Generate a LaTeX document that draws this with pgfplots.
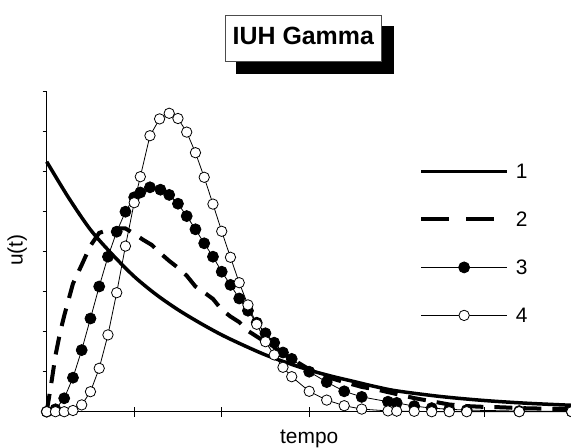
\documentclass[border=0pt]{standalone}
\usepackage{fontspec}
\setmainfont{Liberation Sans}
\usepackage{pgfplots}
\pgfplotsset{compat=1.18}
\pgfplotsset{
  leg solid/.style={legend image code/.code={\draw[##1] (0bp,0bp) -- (86bp,0bp);}},
  leg dash/.style={legend image code/.code={\draw[##1, dash pattern=on 28bp off 17bp] (0bp,0bp) -- (73bp,0bp);}},
  leg mark/.style={legend image code/.code={\draw[##1, mark repeat=2, mark phase=2] plot coordinates {(0bp,0bp) (43bp,0bp) (86bp,0bp)};}},
}

\begin{document}
\begin{tikzpicture}[x=1bp,y=1bp]
% title with shadow
\fill[black] (236,374) rectangle (394.3,422.3);
\draw[fill=white, draw=black!70, line width=0.8bp] (225,387) rectangle (381.7,433);
\node[anchor=base, inner sep=0pt, font=\fontsize{25}{29}\selectfont\bfseries] at (303.3,403.7) {IUH Gamma};

\node[anchor=base, inner sep=0pt, font=\fontsize{21}{25}\selectfont] at (309.2,4.2) {tempo};
\node[anchor=base, rotate=90, inner sep=0pt, font=\fontsize{21}{25}\selectfont] at (22.7,198) {u(t)};

\begin{axis}[
  at={(46.7bp,36.3bp)}, anchor=south west,
  scale only axis, width=525bp, height=320bp,
  xmin=0, xmax=6, ymin=0, ymax=8,
  axis x line=bottom, axis y line=left,
  axis line style={-, line width=0.8bp, black},
  xtick=\empty,
  extra x ticks={1,2,3,4,5},
  extra x tick labels={},
  extra x tick style={major tick length=10bp, tick align=center},
  ytick={1,...,8}, yticklabels={},
  major tick length=4bp, ytick align=outside,
  tick style={black, line width=0.8bp},
  clip=false,
  legend cell align=left,
  legend style={draw=none, fill=none, inner sep=0pt,
    at={(axis description cs:0.709,0.775)}, anchor=north west,
    row sep=33bp, font=\fontsize{21}{25}\selectfont,
    nodes={inner sep=0pt, text height=15bp, text depth=0bp},
    /tikz/every odd column/.append style={column sep=7bp}},
]

\addplot[black, line width=3.5bp, smooth, leg solid]
coordinates {
(0,6.25)(0.25,5.35)(0.5,4.55)(0.75,3.93)(1,3.38)(1.25,2.93)(1.5,2.55)
(1.75,2.22)(2,1.92)(2.25,1.66)(2.5,1.42)(2.75,1.22)(3,1.04)(3.25,0.89)
(3.5,0.76)(3.75,0.63)(4,0.52)(4.5,0.38)(5,0.28)(5.5,0.21)(6,0.16)
};
\addlegendentry{1}

\addplot[black, line width=4bp, dash pattern=on 18bp off 11bp, leg dash]
coordinates {
(0,0)(0.05,0.67)(0.1,1.4)(0.15,1.95)(0.2,2.4)(0.3,3.2)(0.4,3.67)(0.5,4.15)
(0.6,4.47)(0.7,4.54)(0.8,4.58)(0.9,4.58)(1,4.45)(1.1,4.3)(1.2,4.17)
(1.3,3.96)(1.4,3.77)(1.5,3.6)(1.6,3.4)(1.7,3.13)(1.8,2.98)(1.9,2.82)
(2,2.55)(2.1,2.38)(2.2,2.24)(2.3,2.02)(2.4,1.88)(2.5,1.74)(2.6,1.6)
(2.7,1.45)(2.8,1.32)(3,1.06)(3.2,0.87)(3.4,0.74)(3.6,0.62)(3.8,0.54)
(4,0.44)(4.2,0.34)(4.4,0.26)(4.6,0.18)(4.8,0.14)(5,0.12)(5.2,0.11)
(5.4,0.09)(5.6,0.08)(6,0.06)
};
\addlegendentry{2}

\addplot[black, line width=0.8bp, mark=*, mark size=5.5bp,
  mark options={solid, fill=black}, leg mark]
coordinates {
(0,0)(0.1,0.06)(0.2,0.335)(0.3,0.85)(0.4,1.54)(0.5,2.33)(0.6,3.13)
(0.7,3.875)(0.8,4.5)(0.9,5.0)(1,5.36)(1.07,5.48)(1.18,5.61)(1.3,5.55)
(1.4,5.42)(1.5,5.2)(1.6,4.89)(1.7,4.56)(1.8,4.21)(1.9,3.875)(2,3.5)
(2.1,3.17)(2.2,2.83)(2.3,2.525)(2.4,2.225)(2.5,1.96)(2.6,1.725)
(2.7,1.48)(2.8,1.32)(3,1.0)(3.2,0.74)(3.4,0.51)(3.6,0.37)(3.9,0.25)
(4,0.22)(4.2,0.14)(4.4,0.09)(4.6,0.06)(4.8,0.04)(5.4,0.015)(6,0.005)
};
\addlegendentry{3}

\addplot[black, line width=0.8bp, mark=*, mark size=5.2bp,
  mark options={solid, fill=white}, leg mark]
coordinates {
(0,0)(0.1,0)(0.2,0)(0.3,0.03)(0.4,0.17)(0.5,0.5)(0.6,1.085)(0.7,1.92)
(0.8,2.975)(0.9,4.14)(1,5.225)(1.07,5.875)(1.18,6.9)(1.29,7.32)(1.4,7.46)
(1.5,7.33)(1.6,6.99)(1.7,6.475)(1.8,5.86)(1.9,5.19)(2,4.51)(2.1,3.86)
(2.2,3.225)(2.3,2.67)(2.4,2.185)(2.5,1.75)(2.6,1.42)(2.7,1.11)(2.8,0.875)
(3,0.51)(3.2,0.29)(3.4,0.15)(3.6,0.065)(3.9,0.02)(4,0.015)(4.2,0.01)
(4.4,0)(4.6,0)(4.8,0)(5.4,0)(6,0)
};
\addlegendentry{4}

\end{axis}
\pgfresetboundingbox
\path[use as bounding box] (0,0) rectangle (571,448);
\end{tikzpicture}
\end{document}
